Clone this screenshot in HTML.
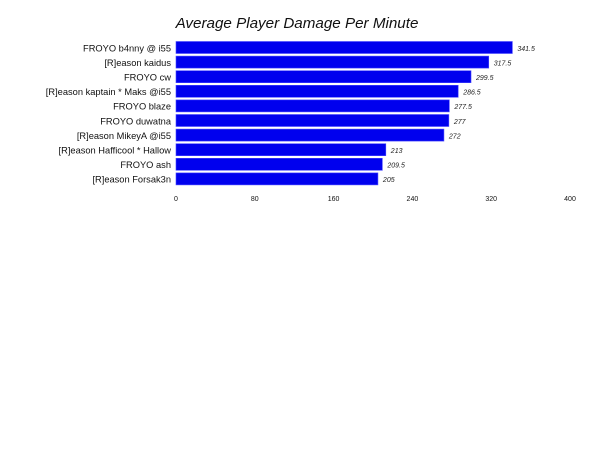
<!DOCTYPE html>
<html><head><meta charset="utf-8"><style>
body{margin:0;background:#fff;}
svg{display:block;font-family:"Liberation Sans",sans-serif;}
</style></head><body>
<svg width="600" height="469">
<text x="297" y="28" text-anchor="middle" font-size="15.2" font-style="italic" fill="#111">Average Player Damage Per Minute</text>
<g id="bars"></g>
<g id="yaxis"></g>
<g id="xaxis"></g>
</svg>
<script>
const categories=["FROYO b4nny @ i55","[R]eason kaidus","FROYO cw","[R]eason kaptain * Maks @i55","FROYO blaze","FROYO duwatna","[R]eason MikeyA @i55","[R]eason Hafficool * Hallow","FROYO ash","[R]eason Forsak3n"];
const values=[341.5,317.5,299.5,286.5,277.5,277,272,213,209.5,205];
const ticks=[0,80,160,240,320,400];
const NS="http://www.w3.org/2000/svg";
const x0=176,x1=570,vmax=400,yTop=40.5,band=14.6;
const xs=v=>x0+(v/vmax)*(x1-x0);
const ys=i=>yTop+i*band;
function mk(tag,attrs,parent,txt){const e=document.createElementNS(NS,tag);for(const k in attrs)e.setAttribute(k,attrs[k]);if(txt!==undefined)e.textContent=txt;parent.appendChild(e);return e;}
const gb=document.getElementById('bars'),gy=document.getElementById('yaxis'),gx=document.getElementById('xaxis');
categories.forEach((c,i)=>{
 const y=ys(i);
 const r=mk('rect',{x:xs(0),y:y+1,width:xs(values[i])-xs(0),height:band-2.6,fill:'#0000ee',stroke:'#4a4aff','stroke-width':0.6},gb);
 
 
 const l=mk('text',{x:171,y:y+band/2+3.5,'text-anchor':'end','font-size':'9.3',fill:'#111'},gy,c);
 
 
 const v=mk('text',{x:xs(values[i])+5,y:y+band/2+3,'font-size':'7','font-style':'italic',fill:'#222'},gb,String(values[i]));
 
 
});
ticks.forEach(t=>{
 const e=mk('text',{x:xs(t),y:201,'text-anchor':'middle','font-size':'7',fill:'#111'},gx,String(t));
 
 
});
</script>
</body></html>
